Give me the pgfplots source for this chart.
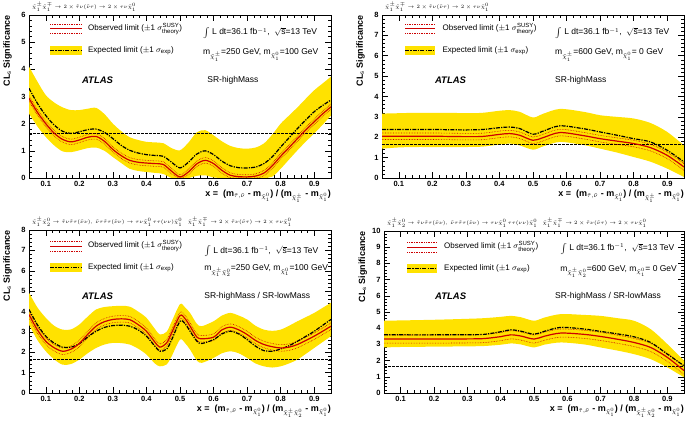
\documentclass[border=0pt]{standalone}
\usepackage{fontspec}
\setmainfont{Liberation Sans}
\usepackage{pgfplots}
\pgfplotsset{compat=1.18}
\usepackage{pgfplotstable}
\usepgfplotslibrary{fillbetween}
\definecolor{bandyellow}{RGB}{255,226,0}
\definecolor{obsred}{RGB}{205,0,0}

\pgfplotstableread{
x exp up lo obs tu td
0.05 3.30 4.10 2.37 2.93 3.03 2.83
0.075 2.75 3.55 1.90 2.42 2.52 2.32
0.10 2.30 3.05 1.51 2.00 2.10 1.90
0.125 1.95 2.78 1.20 1.65 1.75 1.55
0.15 1.72 2.60 0.98 1.42 1.52 1.32
0.175 1.64 2.50 0.95 1.33 1.43 1.23
0.20 1.70 2.50 1.02 1.40 1.50 1.30
0.225 1.78 2.55 1.10 1.50 1.60 1.40
0.25 1.80 2.58 1.12 1.53 1.63 1.43
0.275 1.68 2.35 1.00 1.35 1.45 1.25
0.30 1.45 2.00 0.77 1.05 1.15 0.95
0.325 1.20 1.72 0.55 0.82 0.92 0.72
0.35 1.02 1.50 0.34 0.65 0.75 0.55
0.375 0.92 1.40 0.26 0.58 0.68 0.48
0.40 0.86 1.33 0.22 0.55 0.65 0.45
0.425 0.83 1.31 0.19 0.53 0.63 0.43
0.45 0.80 1.28 0.15 0.50 0.60 0.40
0.475 0.58 1.10 0.00 0.25 0.35 0.15
0.50 0.37 1.02 0.00 0.04 0.12 0.00
0.525 0.58 1.30 0.00 0.22 0.32 0.12
0.55 0.88 1.68 0.08 0.52 0.62 0.42
0.575 1.00 1.76 0.10 0.65 0.75 0.55
0.60 0.86 1.57 0.02 0.53 0.63 0.43
0.625 0.62 1.35 0.00 0.28 0.38 0.18
0.65 0.45 1.18 0.00 0.10 0.19 0.01
0.675 0.38 1.10 0.00 0.05 0.13 0.00
0.70 0.37 1.08 0.00 0.04 0.12 0.00
0.725 0.40 1.12 0.00 0.07 0.15 0.00
0.75 0.53 1.27 0.00 0.18 0.28 0.08
0.775 0.78 1.60 0.05 0.45 0.55 0.35
0.80 1.14 2.00 0.34 0.80 0.90 0.70
0.825 1.48 2.30 0.68 1.12 1.22 1.02
0.85 1.82 2.60 1.02 1.45 1.55 1.35
0.875 2.14 2.92 1.34 1.77 1.87 1.67
0.90 2.44 3.23 1.64 2.07 2.17 1.97
0.925 2.67 3.48 1.96 2.36 2.46 2.26
0.95 2.87 3.73 2.30 2.62 2.72 2.52
}\tabTL

\pgfplotstableread{
x exp up lo obs tu td
0.05 2.38 3.16 1.44 2.05 2.21 1.89
0.10 2.38 3.18 1.50 2.05 2.21 1.89
0.15 2.38 3.20 1.52 2.05 2.21 1.89
0.20 2.38 3.20 1.52 2.05 2.21 1.89
0.25 2.37 3.20 1.52 2.04 2.20 1.88
0.30 2.36 3.18 1.52 2.03 2.19 1.87
0.35 2.38 3.20 1.54 2.04 2.20 1.88
0.40 2.47 3.30 1.64 2.14 2.30 1.98
0.43 2.50 3.33 1.69 2.18 2.34 2.02
0.46 2.43 3.25 1.60 2.10 2.26 1.94
0.50 2.15 2.97 1.39 1.85 2.01 1.69
0.53 2.30 3.15 1.55 1.98 2.14 1.82
0.58 2.56 3.39 1.77 2.23 2.39 2.07
0.65 2.42 3.25 1.62 2.08 2.24 1.92
0.70 2.26 3.08 1.44 1.93 2.09 1.77
0.75 2.10 3.00 1.25 1.81 1.97 1.65
0.80 1.93 2.92 1.03 1.69 1.85 1.53
0.85 1.77 2.70 0.80 1.49 1.65 1.33
0.90 1.36 2.26 0.46 1.11 1.27 0.95
0.95 0.79 1.60 0.05 0.54 0.70 0.38
}\tabTR

\pgfplotstableread{
x exp up lo obs tu td
0.05 4.10 4.92 3.36 3.85 4.01 3.69
0.075 3.35 4.20 2.60 3.10 3.26 2.94
0.10 2.79 3.69 2.05 2.54 2.70 2.38
0.125 2.45 3.30 1.65 2.22 2.38 2.06
0.15 2.25 3.11 1.39 2.05 2.21 1.89
0.175 2.25 3.12 1.42 2.15 2.31 1.99
0.20 2.42 3.36 1.64 2.43 2.59 2.27
0.225 2.75 3.75 1.95 2.88 3.04 2.72
0.25 3.03 4.10 2.21 3.28 3.44 3.12
0.275 3.22 4.22 2.38 3.50 3.66 3.34
0.30 3.31 4.26 2.46 3.61 3.77 3.45
0.325 3.33 4.28 2.45 3.64 3.80 3.48
0.35 3.28 4.24 2.38 3.60 3.76 3.44
0.375 3.10 4.00 2.18 3.36 3.52 3.20
0.40 2.79 3.69 1.89 3.03 3.19 2.87
0.425 2.30 3.15 1.45 2.50 2.66 2.34
0.44 2.05 2.87 1.31 2.25 2.41 2.09
0.46 2.15 3.00 1.40 2.45 2.61 2.29
0.475 2.60 3.50 1.80 2.95 3.11 2.79
0.50 3.52 4.36 2.62 3.80 3.96 3.64
0.515 3.40 4.20 2.45 3.65 3.81 3.49
0.53 3.03 3.93 2.13 3.28 3.44 3.12
0.55 2.55 3.40 1.60 2.75 2.91 2.59
0.565 2.43 3.28 1.48 2.66 2.82 2.50
0.60 2.62 3.52 1.72 2.74 2.90 2.58
0.625 2.90 3.80 1.95 3.10 3.26 2.94
0.65 3.03 3.93 2.05 3.23 3.39 3.07
0.675 2.90 3.80 1.95 3.10 3.26 2.94
0.70 2.62 3.61 1.72 2.87 3.03 2.71
0.725 2.30 3.30 1.45 2.58 2.74 2.42
0.75 2.08 3.11 1.31 2.38 2.54 2.22
0.775 2.05 3.05 1.25 2.27 2.43 2.11
0.80 2.16 3.11 1.31 2.21 2.37 2.05
0.825 2.32 3.30 1.45 2.25 2.41 2.09
0.85 2.54 3.52 1.64 2.38 2.54 2.22
0.875 2.78 3.72 1.92 2.58 2.74 2.42
0.90 3.03 3.93 2.21 2.79 2.95 2.63
0.925 3.32 4.18 2.50 3.03 3.19 2.87
0.95 3.61 4.43 2.79 3.28 3.44 3.12
}\tabBL

\pgfplotstableread{
x exp up lo obs tu td
0.05 3.59 4.46 2.81 3.33 3.58 3.08
0.10 3.59 4.48 2.84 3.33 3.58 3.08
0.20 3.59 4.52 2.86 3.33 3.58 3.08
0.30 3.60 4.58 2.88 3.34 3.59 3.09
0.35 3.62 4.62 2.90 3.36 3.61 3.11
0.40 3.78 4.70 2.98 3.48 3.73 3.23
0.43 3.90 4.76 3.06 3.59 3.84 3.34
0.46 3.82 4.68 3.00 3.52 3.77 3.27
0.50 3.63 4.46 2.81 3.33 3.58 3.08
0.53 3.80 4.65 2.98 3.50 3.75 3.25
0.58 4.05 4.87 3.12 3.70 3.95 3.45
0.65 3.95 4.82 3.00 3.62 3.87 3.37
0.70 3.80 4.76 2.81 3.49 3.74 3.24
0.75 3.65 4.62 2.62 3.32 3.57 3.07
0.80 3.47 4.46 2.40 3.12 3.37 2.87
0.85 3.12 3.94 2.09 2.81 3.06 2.56
0.90 2.40 3.02 1.58 2.20 2.45 1.95
0.95 1.68 2.00 0.97 1.38 1.63 1.13
}\tabBR

\pgfplotsset{
  atlas/.style={
    scale only axis, xmin=0.05, xmax=0.95, ymin=0,
    clip mode=individual,
    xtick={0.1,0.2,0.3,0.4,0.5,0.6,0.7,0.8,0.9},
    tick align=inside, xtick pos=both, ytick pos=both,
    minor x tick num=4, minor y tick num=4,
    major tick length=6pt, minor tick length=3pt,
    tick style={black, line width=0.5pt},
    axis line style={line width=0.6pt},
    ticklabel style={font=\bfseries\fontsize{7.5}{8}\selectfont},
    /pgf/number format/assume math mode=true,
    /pgf/number format/fixed,
    /pgf/number format/precision=1,
  }
}

\newcommand{\curves}[2]{%
  \addplot[name path=up#2, draw=none, smooth, forget plot] table[x=x,y=up]{#1};
  \addplot[name path=lo#2, draw=none, smooth, forget plot] table[x=x,y=lo]{#1};
  \addplot[bandyellow, forget plot] fill between[of=up#2 and lo#2];
  \addplot[black, line width=0.9pt, dash pattern=on 2.5pt off 1.5pt, forget plot] coordinates {(0.05,1.64) (0.95,1.64)};
  \addplot[obsred, densely dotted, line width=0.6pt, smooth] table[x=x,y=tu]{#1};
  \addplot[obsred, densely dotted, line width=0.6pt, smooth] table[x=x,y=td]{#1};
  \addplot[black, line width=1.2pt, dash pattern=on 4pt off 1.2pt on 1.2pt off 1.2pt, smooth] table[x=x,y=exp]{#1};
  \addplot[obsred, line width=1.2pt, smooth] table[x=x,y=obs]{#1};
}

\newcommand{\legendblock}[9]{%
  \draw[obsred, densely dotted, line width=0.7pt] (axis description cs:#1,#4) -- (axis description cs:#2,#4);
  \draw[obsred, line width=1.2pt] (axis description cs:#1,#5) -- (axis description cs:#2,#5);
  \draw[obsred, densely dotted, line width=0.7pt] (axis description cs:#1,#6) -- (axis description cs:#2,#6);
  \fill[bandyellow] (axis description cs:#1,#7) rectangle (axis description cs:#2,#9);
  \draw[black, line width=1.2pt, dash pattern=on 4pt off 1.2pt on 1.2pt off 1.2pt] (axis description cs:#1,#8) -- (axis description cs:#2,#8);
  \node[anchor=west, inner sep=0pt, font=\fontsize{8}{9}\selectfont] at (axis description cs:#3,#5) {Observed limit ($\pm$1 $\sigma^{\mathrm{SUSY}}_{\mathrm{theory}}$)};
  \node[anchor=west, inner sep=0pt, font=\fontsize{8}{9}\selectfont] at (axis description cs:#3,#8) {Expected limit ($\pm$1 $\sigma_{\mathrm{exp}}$)};
}

\newcommand{\lumi}{$\int$ L dt=36.1 fb$^{-1}$, \ $\sqrt{\mathrm{s}}$=13 TeV}
\newcommand{\titleA}{$\tilde{\chi}^{\pm}_{1}\tilde{\chi}^{\mp}_{1}\rightarrow 2\times\tilde{\tau}\nu(\tilde{\nu}\tau)\rightarrow 2\times\tau\nu\tilde{\chi}^{0}_{1}$}
\newcommand{\titleB}{$\tilde{\chi}^{\pm}_{1}\tilde{\chi}^{0}_{2}\rightarrow\tilde{\tau}\nu\tilde{\tau}\tau(\tilde{\nu}\nu),\,\tilde{\nu}\tau\tilde{\tau}\tau(\tilde{\nu}\nu)\rightarrow\tau\nu\tilde{\chi}^{0}_{1}\,\tau\tau(\nu\nu)\tilde{\chi}^{0}_{1}\quad\tilde{\chi}^{\pm}_{1}\tilde{\chi}^{\mp}_{1}\rightarrow 2\times\tilde{\tau}\nu(\tilde{\nu}\tau)\rightarrow 2\times\tau\nu\tilde{\chi}^{0}_{1}$}
\newcommand{\xlabA}{x = \ (m$_{\tilde{\tau},\tilde{\nu}}$ - m$_{\tilde{\chi}^{0}_{1}}$) / (m$_{\tilde{\chi}^{\pm}_{1}}$ - m$_{\tilde{\chi}^{0}_{1}}$)}
\newcommand{\xlabB}{x = \ (m$_{\tilde{\tau},\tilde{\nu}}$ - m$_{\tilde{\chi}^{0}_{1}}$) / (m$_{\tilde{\chi}^{\pm}_{1}\tilde{\chi}^{0}_{2}}$ - m$_{\tilde{\chi}^{0}_{1}}$)}

\newcommand{\texts}[8]{%
  \node[anchor=west, inner sep=0pt, font=\fontsize{8.5}{9}\selectfont] at (axis description cs:#1,#2) {\lumi};
  \node[anchor=west, inner sep=0pt, font=\fontsize{8.5}{9}\selectfont] at (axis description cs:#1,#3) {#5};
  \node[anchor=west, inner sep=0pt, font=\fontsize{8.5}{9}\selectfont] at (axis description cs:#8,#4) {#6};
  \node[anchor=west, inner sep=0pt, font=\bfseries\itshape\fontsize{9.5}{10}\selectfont] at (axis description cs:#7,#4) {ATLAS};
}
\newcommand{\labels}[4]{%
  \node[rotate=90, anchor=south east, inner sep=0pt, font=\bfseries\fontsize{9}{10}\selectfont] at (axis description cs:#1,1) {CL$_{\mathrm{s}}$ Significance};
  \node[anchor=north east, inner sep=0pt, font=\bfseries\fontsize{9}{10}\selectfont] at (axis description cs:1,#2) {#3};
  \node[anchor=south west, inner sep=0pt, font=\fontsize{5.5}{6}\selectfont] at (axis description cs:0.01,1.02) {#4};
}

\begin{document}
\begin{tikzpicture}
\path (0pt,0pt) rectangle (685pt,-423pt);

\begin{axis}[atlas, at={(29pt,-15pt)}, anchor=north west, width=302pt, height=163pt,
  ymax=6, ytick={0,1,2,3,4,5,6}]
\curves{\tabTL}{a}
\legendblock{0.07}{0.175}{0.195}{0.945}{0.915}{0.885}{0.752}{0.78}{0.808}
\texts{0.576}{0.89}{0.755}{0.60}{m$_{\tilde{\chi}^{\pm}_{1}}$=250 GeV, m$_{\tilde{\chi}^{0}_{1}}$=100 GeV}{SR-highMass}{0.175}{0.59}
\labels{-0.056}{-0.074}{\xlabA}{\titleA}
\end{axis}

\begin{axis}[atlas, at={(382pt,-15pt)}, anchor=north west, width=302pt, height=163pt,
  ymax=8, ytick={0,1,2,3,4,5,6,7,8}]
\curves{\tabTR}{b}
\legendblock{0.077}{0.175}{0.2}{0.945}{0.915}{0.885}{0.752}{0.78}{0.808}
\texts{0.573}{0.89}{0.755}{0.60}{m$_{\tilde{\chi}^{\pm}_{1}}$=600 GeV, m$_{\tilde{\chi}^{0}_{1}}$= 0 GeV}{SR-highMass}{0.175}{0.573}
\labels{-0.056}{-0.074}{\xlabA}{\titleA}
\end{axis}

\begin{axis}[atlas, at={(29pt,-230pt)}, anchor=north west, width=302pt, height=163pt,
  ymax=8, ytick={0,1,2,3,4,5,6,7,8}]
\curves{\tabBL}{c}
\legendblock{0.07}{0.175}{0.195}{0.93}{0.90}{0.87}{0.742}{0.77}{0.798}
\texts{0.58}{0.87}{0.75}{0.595}{m$_{\tilde{\chi}^{\pm}_{1}\tilde{\chi}^{0}_{2}}$=250 GeV, m$_{\tilde{\chi}^{0}_{1}}$=100 GeV}{SR-highMass / SR-lowMass}{0.175}{0.58}
\labels{-0.056}{-0.074}{\xlabB}{\titleB}
\end{axis}

\begin{axis}[atlas, at={(384pt,-231pt)}, anchor=north west, width=300pt, height=162pt,
  ymax=10, ytick={0,1,2,3,4,5,6,7,8,9,10}]
\curves{\tabBR}{d}
\legendblock{0.077}{0.175}{0.2}{0.93}{0.90}{0.87}{0.742}{0.77}{0.798}
\texts{0.587}{0.89}{0.75}{0.595}{m$_{\tilde{\chi}^{\pm}_{1}\tilde{\chi}^{0}_{2}}$=600 GeV, m$_{\tilde{\chi}^{0}_{1}}$= 0 GeV}{SR-highMass / SR-lowMass}{0.17}{0.57}
\labels{-0.056}{-0.074}{\xlabB}{\titleB}
\end{axis}
\end{tikzpicture}
\end{document}
